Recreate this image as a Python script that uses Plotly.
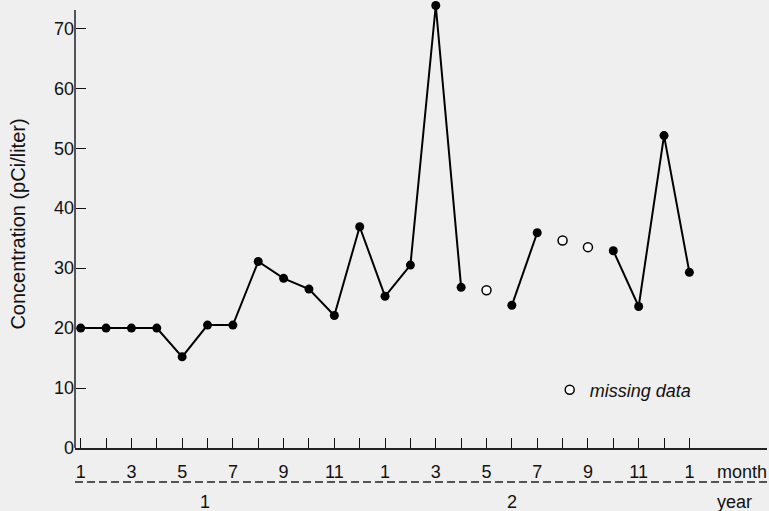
import plotly.graph_objects as go

# -----------------------------------------------------------------------------
# Data (monthly concentration, pCi/liter); None = month with missing data
# -----------------------------------------------------------------------------

months = list(range(1, 26))
month_labels = ["1", "", "3", "", "5", "", "7", "", "9", "", "11", "",
                "1", "", "3", "", "5", "", "7", "", "9", "", "11", "", "1"]
concentration = [20, 20, 20, 20, 15.2, 20.5, 20.5, 31.1, 28.3, 26.5, 22.1, 36.9,
                 25.3, 30.5, 73.8, 26.8, None, 23.8, 35.9, None, None, 32.9, 23.6, 52.1, 29.3]

missing_months = [17, 20, 21]
missing_estimates = [26.3, 34.6, 33.5]

years = ["1", "2"]
year_label_pos = [5.9, 18.0]

y_ticks = [0, 10, 20, 30, 40, 50, 60, 70]
y_axis_top = 73.05

FONT = "Liberation Sans, Arial, Helvetica, sans-serif"
BG = "#efefef"
TXT = dict(size=18, color="#111", family=FONT)

# -----------------------------------------------------------------------------
# Figure
# -----------------------------------------------------------------------------

fig = go.Figure()

fig.add_trace(go.Scatter(
    x=months,
    y=concentration,
    mode="lines+markers",
    line=dict(color="black", width=2),
    marker=dict(color="black", size=9),
    connectgaps=False,
    cliponaxis=False,
    showlegend=False,
))

fig.add_trace(go.Scatter(
    x=missing_months,
    y=missing_estimates,
    mode="markers",
    name="<i>missing data</i>",
    marker=dict(color="white", size=9, line=dict(color="black", width=1.5)),
    cliponaxis=False,
    showlegend=True,
))

# year labels under the dashed separator
for yr, pos in zip(years, year_label_pos):
    fig.add_annotation(x=pos, xref="x", y=-0.1208, yref="paper", text=yr,
                       showarrow=False, xanchor="center", yanchor="middle", font=TXT)

fig.add_annotation(x=0.925, xref="paper", y=-0.0537, yref="paper", text="month",
                   showarrow=False, xanchor="left", yanchor="middle", font=TXT)
fig.add_annotation(x=0.925, xref="paper", y=-0.1208, yref="paper", text="year",
                   showarrow=False, xanchor="left", yanchor="middle", font=TXT)

# y axis title
fig.add_annotation(x=-0.083, xref="paper", y=0.501, yref="paper",
                   text="Concentration (pCi/liter)", textangle=-90,
                   showarrow=False, xanchor="center", yanchor="middle",
                   font=dict(size=20, color="#111", family=FONT))

# dashed separator between month and year rows
fig.add_shape(type="line", xref="paper", yref="paper", x0=0, x1=1, y0=-0.0761, y1=-0.0761,
              line=dict(color="#222", width=1.5, dash="8px,4px"))

# y axis line (stops a little above the 70 tick)
fig.add_shape(type="line", xref="paper", yref="y", x0=0, x1=0, y0=0, y1=y_axis_top,
              line=dict(color="#555", width=2))

fig.update_layout(
    width=769,
    height=511,
    margin=dict(l=75, r=2, t=1, b=63),
    paper_bgcolor=BG,
    plot_bgcolor=BG,
    font=TXT,
    legend=dict(
        x=0.686, y=0.1298, xanchor="left", yanchor="middle",
        bgcolor="rgba(0,0,0,0)", font=TXT,
        itemwidth=30,
    ),
    xaxis=dict(
        range=[0.775, 28.06],
        tickvals=months,
        ticktext=month_labels,
        ticks="inside",
        ticklen=10,
        tickwidth=1,
        tickcolor="#111",
        showline=True,
        linecolor="#222",
        linewidth=2,
        showgrid=False,
        zeroline=False,
        ticklabelstandoff=6,
        tickfont=TXT,
    ),
    yaxis=dict(
        range=[0, 74.55],
        tickvals=y_ticks,
        ticks="inside",
        ticklen=11,
        tickwidth=1,
        tickcolor="#111",
        showline=False,
        showgrid=False,
        zeroline=False,
        tickfont=TXT,
    ),
)

fig.write_html("out.html", config={"displayModeBar": False},
               post_script="document.body.style.margin='0';")
